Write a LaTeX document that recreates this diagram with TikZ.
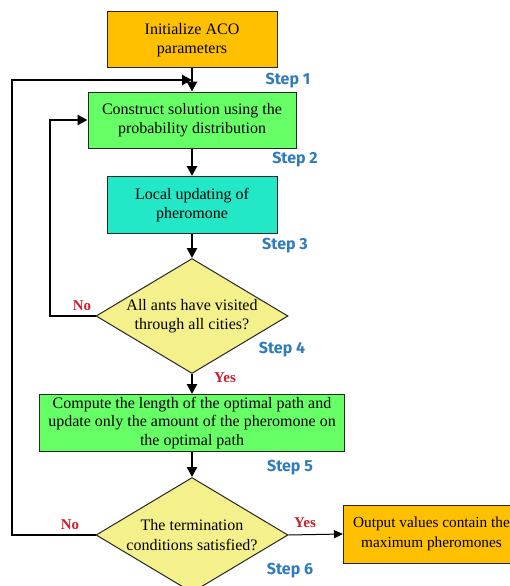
\documentclass[tikz,border=0pt]{standalone}
\usepackage{fontspec}
\setmainfont{Liberation Serif}
\newfontfamily\stepfont{Fira Sans}
\usetikzlibrary{shapes.geometric,arrows.meta}
\definecolor{acoorange}{HTML}{FFC000}
\definecolor{acogreen}{HTML}{66FF66}
\definecolor{acocyan}{HTML}{22E8C8}
\definecolor{acoyellow}{HTML}{F4F08C}
\definecolor{stepblue}{HTML}{2E7BBF}
\definecolor{answerred}{HTML}{C8202F}
\begin{document}
\begin{tikzpicture}[x=1pt,y=-1pt,
  box/.style={rectangle,draw=black!85,line width=1pt,align=center,inner sep=2pt,
    font=\fontsize{16}{19.5}\selectfont},
  choice/.style={diamond,draw=black!85,line width=1pt,fill=acoyellow,align=center,
    aspect=1.67,inner sep=0pt,minimum width=192pt,minimum height=115pt,
    font=\fontsize{16}{19.5}\selectfont},
  steplabel/.style={text=stepblue,font=\stepfont\bfseries\fontsize{16}{18}\selectfont},
  answer/.style={text=answerred,font=\bfseries\fontsize{15}{17}\selectfont},
  flow/.style={line width=2.8pt,-{Triangle[length=10pt,width=10pt]}}]
  \useasboundingbox (0,0) rectangle (510,586);
  \clip (0,0) rectangle (510,586);

  \node[box,fill=acoorange,minimum width=170pt,minimum height=56pt] (init) at (192,40)
    {Initialize ACO\\parameters};
  \node[box,fill=acogreen,minimum width=208pt,minimum height=56pt] (construct) at (192,120)
    {Construct solution using the\\probability distribution};
  \node[box,fill=acocyan,minimum width=170pt,minimum height=57pt] (local) at (192,205)
    {Local updating of\\pheromone};
  \node[choice] (visited) at (192,316) {All ants have visited\\through all cities?};
  \node[box,fill=acogreen,minimum width=305pt,minimum height=57pt,inner sep=0pt,
    font=\fontsize{16}{18.5}\selectfont] (compute) at (192,423)
    {Compute the length of the optimal path and\\update only the amount of the pheromone on\\the optimal path};
  \node[choice] (done) at (192,535) {The termination\\conditions satisfied?};
  \node[box,fill=acoorange,minimum width=176pt,minimum height=58pt,anchor=west,
    font=\fontsize{15.3}{19.5}\selectfont] (output) at (343,534)
    {Output values contain the\\maximum pheromones};

  \coordinate (merge) at (192,80);
  \coordinate (outer) at (12,535);
  \coordinate (inner) at (50,316);

  \node[steplabel] (s1) at (288,81) {Step 1};
  \node[steplabel] (s2) at (295,160) {Step 2};
  \node[steplabel] (s3) at (285,246) {Step 3};
  \node[steplabel] (s4) at (282,350) {Step 4};
  \node[steplabel] (s5) at (290,468) {Step 5};
  \node[steplabel] (s6) at (290,571) {Step 6};
  \node[answer] (no1) at (82,306) {No};
  \node[answer] (yes1) at (225,378) {Yes};
  \node[answer] (no2) at (70,525) {No};
  \node[answer] (yes2) at (305,523) {Yes};

  \draw[flow] (init) -- (construct);
  \draw[flow] (construct) -- (local);
  \draw[flow] (local) -- (visited);
  \draw[flow] (visited) -- (compute);
  \draw[flow] (compute) -- (done);
  \draw[flow] (visited.west) -- (inner) |- (construct.west);
  \draw[flow] (done.west) -- (outer) |- (merge);
  \draw[line width=1pt,-{Triangle[length=9pt,width=8pt]}] (done.east) -- (output.west);
\end{tikzpicture}
\end{document}
